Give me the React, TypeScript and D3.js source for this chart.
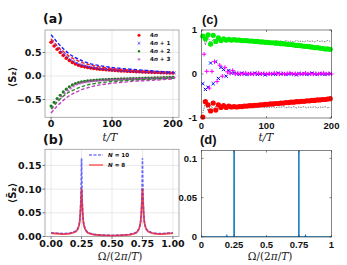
import React from 'react';
import * as d3 from 'd3';

const W = 347, H = 265;

// ---------- Panel (a) data ----------
const tA = d3.range(0, 201, 5); // 41 time points
const a4n = [0.72, 0.64, 0.57, 0.50, 0.44, 0.38, 0.33, 0.29, 0.255, 0.23, 0.21, 0.195, 0.18, 0.17, 0.16, 0.152, 0.145, 0.138, 0.132, 0.127, 0.122, 0.117, 0.113, 0.109, 0.105, 0.101, 0.098, 0.095, 0.092, 0.089, 0.086, 0.083, 0.081, 0.078, 0.076, 0.074, 0.071, 0.069, 0.067, 0.065, 0.063];
const a4n1 = [0.74, 0.66, 0.59, 0.52, 0.46, 0.40, 0.35, 0.31, 0.275, 0.245, 0.225, 0.208, 0.193, 0.181, 0.171, 0.162, 0.154, 0.147, 0.14, 0.134, 0.129, 0.124, 0.119, 0.115, 0.111, 0.107, 0.104, 0.10, 0.097, 0.094, 0.091, 0.088, 0.085, 0.083, 0.08, 0.078, 0.076, 0.073, 0.071, 0.069, 0.067];
const a4n2 = [-0.64, -0.56, -0.48, -0.41, -0.34, -0.28, -0.23, -0.19, -0.16, -0.14, -0.125, -0.113, -0.104, -0.097, -0.091, -0.086, -0.082, -0.078, -0.075, -0.072, -0.07, -0.067, -0.065, -0.063, -0.061, -0.059, -0.057, -0.055, -0.053, -0.051, -0.049, -0.047, -0.045, -0.043, -0.041, -0.039, -0.037, -0.035, -0.033, -0.031, -0.03];
const a4n3 = [-0.68, -0.59, -0.51, -0.44, -0.37, -0.31, -0.26, -0.215, -0.18, -0.158, -0.142, -0.129, -0.119, -0.111, -0.104, -0.098, -0.093, -0.089, -0.085, -0.082, -0.079, -0.076, -0.073, -0.071, -0.069, -0.066, -0.064, -0.062, -0.06, -0.058, -0.056, -0.054, -0.052, -0.05, -0.048, -0.046, -0.045, -0.043, -0.041, -0.04, -0.038];
const tADash = d3.range(0, 201, 10); // 21 time points
const dash4n1 = [0.88, 0.72, 0.58, 0.47, 0.39, 0.33, 0.28, 0.245, 0.22, 0.2, 0.18, 0.167, 0.155, 0.145, 0.135, 0.125, 0.115, 0.105, 0.095, 0.085, 0.075];
const dash4n = [0.79, 0.64, 0.52, 0.42, 0.35, 0.29, 0.25, 0.22, 0.195, 0.175, 0.16, 0.147, 0.135, 0.125, 0.115, 0.107, 0.1, 0.092, 0.085, 0.077, 0.07];
const dash4n2 = [-0.70, -0.55, -0.43, -0.34, -0.28, -0.23, -0.19, -0.165, -0.145, -0.13, -0.12, -0.11, -0.1, -0.092, -0.085, -0.078, -0.07, -0.065, -0.06, -0.055, -0.05];
const dash4n3 = [-0.79, -0.64, -0.52, -0.42, -0.35, -0.29, -0.25, -0.215, -0.19, -0.17, -0.155, -0.142, -0.13, -0.12, -0.11, -0.102, -0.095, -0.088, -0.08, -0.072, -0.065];
const xTicksA = [0, 100, 200];
const yTicksA = [-0.5, 0, 0.5];
const legendA = ['4n', '4n + 1', '4n + 2', '4n + 3'];

// ---------- Panel (b) data ----------
const freqB = [0, 0.05, 0.1, 0.15, 0.18, 0.2, 0.21, 0.22, 0.23, 0.235, 0.24, 0.245, 0.25, 0.255, 0.26, 0.265, 0.27, 0.28, 0.29, 0.3, 0.32, 0.35, 0.4, 0.45, 0.5, 0.55, 0.6, 0.65, 0.68, 0.7, 0.71, 0.72, 0.73, 0.735, 0.74, 0.745, 0.75, 0.755, 0.76, 0.765, 0.77, 0.78, 0.79, 0.8, 0.82, 0.85, 0.9, 0.95, 1.0];
const specN8 = [0.007, 0.006, 0.005, 0.006, 0.008, 0.01, 0.012, 0.016, 0.024, 0.032, 0.048, 0.075, 0.101, 0.072, 0.046, 0.031, 0.023, 0.015, 0.011, 0.008, 0.006, 0.004, 0.003, 0.002, 0.002, 0.002, 0.003, 0.004, 0.006, 0.008, 0.011, 0.015, 0.023, 0.031, 0.046, 0.072, 0.101, 0.075, 0.048, 0.032, 0.024, 0.016, 0.012, 0.01, 0.008, 0.006, 0.005, 0.006, 0.007];
const specN10 = [0.008, 0.007, 0.006, 0.007, 0.009, 0.011, 0.013, 0.017, 0.025, 0.034, 0.05, 0.085, 0.165, 0.08, 0.048, 0.032, 0.024, 0.016, 0.012, 0.009, 0.007, 0.005, 0.003, 0.003, 0.002, 0.003, 0.003, 0.005, 0.007, 0.009, 0.012, 0.016, 0.024, 0.032, 0.048, 0.08, 0.165, 0.085, 0.05, 0.034, 0.025, 0.017, 0.013, 0.011, 0.009, 0.007, 0.006, 0.007, 0.008];
const xTicksB = [0, 0.25, 0.5, 0.75, 1.0];
const yTicksB = [0, 0.05, 0.1, 0.15];

// ---------- Panel (c) data ----------
const tC = d3.range(2, 200, 4); // 50 time points
const cGreen = [0.86, 0.80, 0.89, 0.68, 0.88, 0.74, 0.82, 0.76, 0.80, 0.77, 0.79, 0.77, 0.78, 0.77, 0.77, 0.76, 0.76, 0.76, 0.75, 0.75, 0.74, 0.74, 0.73, 0.73, 0.72, 0.72, 0.71, 0.71, 0.70, 0.70, 0.69, 0.69, 0.68, 0.67, 0.67, 0.66, 0.65, 0.65, 0.64, 0.63, 0.63, 0.62, 0.61, 0.60, 0.60, 0.59, 0.58, 0.57, 0.57, 0.56];
const cRed = [-0.98, -0.63, -0.70, -0.84, -0.66, -0.82, -0.70, -0.76, -0.72, -0.76, -0.73, -0.75, -0.74, -0.75, -0.74, -0.74, -0.73, -0.73, -0.72, -0.72, -0.71, -0.71, -0.70, -0.70, -0.69, -0.69, -0.68, -0.68, -0.67, -0.67, -0.66, -0.66, -0.65, -0.65, -0.64, -0.64, -0.63, -0.63, -0.62, -0.62, -0.61, -0.61, -0.60, -0.60, -0.59, -0.59, -0.58, -0.58, -0.57, -0.56];
const cBlue = [-0.22, -0.35, -0.30, 0.25, -0.22, 0.28, -0.10, 0.15, 0.10, -0.05, 0.08, 0.02, 0.03, 0.01, -0.01, 0.02, 0.0, -0.01, 0.01, 0.0, 0.02, -0.01, 0.0, 0.01, -0.02, 0.0, 0.01, 0.0, -0.01, 0.02, 0.0, 0.01, -0.01, 0.0, 0.01, 0.0, -0.02, 0.01, 0.0, 0.01, -0.01, 0.0, 0.02, 0.0, -0.01, 0.01, 0.0, -0.01, 0.0, 0.01];
const cMagenta = [0.45, 0.06, -0.32, 0.06, 0.28, -0.17, 0.20, -0.05, 0.15, 0.05, 0.02, 0.08, 0.0, 0.02, 0.0, 0.01, 0.02, 0.0, 0.01, 0.0, 0.01, 0.02, 0.0, 0.01, 0.0, 0.01, 0.0, 0.02, 0.01, 0.0, 0.01, 0.0, 0.01, 0.02, 0.0, 0.01, 0.0, 0.01, 0.0, 0.02, 0.0, 0.01, 0.0, 0.01, 0.0, 0.01, 0.02, 0.0, 0.01, 0.0];
const cDotTop = [0.90, 0.66, 0.84, 0.70, 0.79, 0.72, 0.77, 0.73, 0.76, 0.73, 0.75, 0.73, 0.76, 0.73, 0.75, 0.74, 0.76, 0.73, 0.75, 0.73, 0.76, 0.74, 0.75, 0.73, 0.76, 0.74, 0.75, 0.73, 0.76, 0.74, 0.75, 0.73, 0.76, 0.74, 0.75, 0.73, 0.76, 0.74, 0.75, 0.73, 0.76, 0.74, 0.75, 0.73, 0.76, 0.74, 0.75, 0.73, 0.76, 0.74];
const cDotBot = [-0.88, -0.66, -0.84, -0.71, -0.80, -0.73, -0.78, -0.74, -0.77, -0.74, -0.76, -0.74, -0.77, -0.74, -0.76, -0.75, -0.77, -0.74, -0.76, -0.74, -0.77, -0.75, -0.76, -0.74, -0.77, -0.75, -0.76, -0.74, -0.77, -0.75, -0.76, -0.74, -0.77, -0.75, -0.76, -0.74, -0.77, -0.75, -0.76, -0.74, -0.77, -0.75, -0.76, -0.74, -0.77, -0.75, -0.76, -0.74, -0.77, -0.75];
const xTicksC = [0, 100, 200];
const yTicksC = [-1, 0, 1];

// ---------- Panel (d) data ----------
const freqD = [0, 0.19, 0.195, 0.2, 0.205, 0.249, 0.25, 0.2505, 0.2515, 0.2525, 0.3, 0.5, 0.7, 0.7475, 0.7485, 0.7495, 0.75, 0.7505, 0.795, 0.8, 0.805, 1];
const ampD = [0, 0, 0.002, 0, 0, 0, 0.5, 0, 0.5, 0, 0, 0, 0, 0, 0.5, 0, 0.5, 0, 0, 0.002, 0, 0];
const xTicksD = [0, 0.25, 0.5, 0.75, 1];
const xTickLabD = ['0', '0.25', '0.5', '0.75', '1'];
const yTicksD = [0, 0.05, 0.1];
const yTickLabD = ['0', '0.05', '0.1'];

const MPL = 'DejaVu Sans';
const MAT = 'Liberation Sans';
const SERIF = 'DejaVu Serif';

function Cross({ x, y, s, c, w = 0.9 }: any) {
  return <path d={`M${x - s},${y - s}L${x + s},${y + s}M${x - s},${y + s}L${x + s},${y - s}`} stroke={c} strokeWidth={w} fill="none" />;
}
function Plus({ x, y, s, c, w = 0.9 }: any) {
  return <path d={`M${x - s},${y}L${x + s},${y}M${x},${y - s}L${x},${y + s}`} stroke={c} strokeWidth={w} fill="none" />;
}

function fmt2(v: number) { return v.toFixed(2); }

export default function App() {
  const xA = d3.scaleLinear().domain([-10, 210]).range([45, 179]);
  const yA = d3.scaleLinear().domain([-0.88, 0.98]).range([117.3, 30]);
  const xB = d3.scaleLinear().domain([-0.05, 1.05]).range([45, 179]);
  const yB = d3.scaleLinear().domain([0, 0.184]).range([236.5, 149.3]);
  const xC = d3.scaleLinear().domain([0, 200]).range([201.5, 331.5]);
  const yC = d3.scaleLinear().domain([-1, 1]).range([118, 30]);
  const xD = d3.scaleLinear().domain([0, 1]).range([201.5, 331.5]);
  const yD = d3.scaleLinear().domain([0, 0.11]).range([237, 150.5]);

  const lineA = (vals: number[]) => d3.line<number>().x((_, i) => xA(tADash[i])).y(v => yA(v)).curve(d3.curveMonotoneX)(vals) || '';
  const lineB = (vals: number[]) => d3.line<number>().x((_, i) => xB(freqB[i])).y(v => yB(v))(vals) || '';
  const lineC = (vals: number[]) => d3.line<number>().x((_, i) => xC(tC[i])).y(v => yC(v))(vals) || '';
  const lineD = d3.line<number>().x((_, i) => xD(freqD[i])).y(v => yD(v))(ampD) || '';

  const spine = '#9a9a9a';
  const grid = '#e3e3e3';

  const mplFrame = (x: any, y: any, xt: number[], yt: number[], xl: (v: number) => string, yl: (v: number) => string) => {
    const [x0, x1] = x.range();
    const [y0, y1] = y.range();
    return (
      <g>
        {xt.map(v => <line key={'gx' + v} x1={x(v)} x2={x(v)} y1={y1} y2={y0} stroke={grid} strokeWidth={0.8} />)}
        {yt.map(v => <line key={'gy' + v} x1={x0} x2={x1} y1={y(v)} y2={y(v)} stroke={grid} strokeWidth={0.8} />)}
        <rect x={x0} y={y1} width={x1 - x0} height={y0 - y1} fill="none" stroke={spine} strokeWidth={0.8} />
        {xt.map(v => <line key={'tx' + v} x1={x(v)} x2={x(v)} y1={y0} y2={y0 + 2.5} stroke="#555" strokeWidth={0.8} />)}
        {yt.map(v => <line key={'ty' + v} x1={x0 - 2.5} x2={x0} y1={y(v)} y2={y(v)} stroke="#555" strokeWidth={0.8} />)}
        {xt.map(v => <text key={'lx' + v} x={x(v)} y={y0 + 10} textAnchor="middle" fontFamily={MPL} fontWeight="bold" fontSize={9.5} fill="#111">{xl(v)}</text>)}
        {yt.map(v => <text key={'ly' + v} x={x0 - 3.5} y={y(v) + 3.4} textAnchor="end" fontFamily={MPL} fontWeight="bold" fontSize={9.5} fill="#111">{yl(v)}</text>)}
      </g>
    );
  };

  const matFrame = (x: any, y: any, xt: number[], yt: number[], xl: string[], yl: string[]) => {
    const [x0, x1] = x.range();
    const [y0, y1] = y.range();
    const c = '#333';
    return (
      <g>
        <rect x={x0} y={y1} width={x1 - x0} height={y0 - y1} fill="none" stroke={c} strokeWidth={0.6} />
        {xt.map(v => <g key={'tx' + v}>
          <line x1={x(v)} x2={x(v)} y1={y0} y2={y0 - 2} stroke={c} strokeWidth={0.6} />
          <line x1={x(v)} x2={x(v)} y1={y1} y2={y1 + 2} stroke={c} strokeWidth={0.6} />
        </g>)}
        {yt.map(v => <g key={'ty' + v}>
          <line x1={x0} x2={x0 + 2} y1={y(v)} y2={y(v)} stroke={c} strokeWidth={0.6} />
          <line x1={x1} x2={x1 - 2} y1={y(v)} y2={y(v)} stroke={c} strokeWidth={0.6} />
        </g>)}
        {xt.map((v, i) => <text key={'lx' + v} x={x(v)} y={y0 + 11} textAnchor="middle" fontFamily={MAT} fontWeight="bold" fontSize={9.5} fill="#111">{xl[i]}</text>)}
        {yt.map((v, i) => <text key={'ly' + v} x={x0 - 4.5} y={y(v) + 3.4} textAnchor="end" fontFamily={MAT} fontWeight="bold" fontSize={9.5} fill="#111">{yl[i]}</text>)}
      </g>
    );
  };

  const yLabA = (v: number) => (v < 0 ? '\u2212' : '') + Math.abs(v).toFixed(1);

  return (
    <svg width={W} height={H} style={{ position: 'absolute', left: 0, top: 0, background: '#fff' }}>
      <defs>
        <clipPath id="clipD"><rect x={201.5} y={150.5} width={130} height={86.5} /></clipPath>
        <clipPath id="clipA"><rect x={45} y={30} width={134} height={87.3} /></clipPath>
      </defs>
      <rect width={W} height={H} fill="#fff" />

      {/* ---------- Panel (a) ---------- */}
      {mplFrame(xA, yA, xTicksA, yTicksA, v => String(v), yLabA)}
      <g clipPath="url(#clipA)">
        {a4n.map((v, i) => <circle key={'r' + i} cx={xA(tA[i])} cy={yA(v)} r={1.8} fill="#ff0000" />)}
        {a4n1.map((v, i) => <Cross key={'b' + i} x={xA(tA[i]) + 1.5} y={yA(v)} s={1.3} c="#3030ff" w={0.8} />)}
        {a4n2.map((v, i) => <circle key={'g' + i} cx={xA(tA[i])} cy={yA(v)} r={1.6} fill="#1a7f1a" />)}
        {a4n3.map((v, i) => <Plus key={'m' + i} x={xA(tA[i]) + 1.5} y={yA(v)} s={1.5} c="#cc44cc" w={0.8} />)}
        <path d={lineA(dash4n)} fill="none" stroke="#ff2020" strokeWidth={1.4} strokeDasharray="3.5,2" />
        <path d={lineA(dash4n1)} fill="none" stroke="#2020ff" strokeWidth={1.4} strokeDasharray="3.5,2" />
        <path d={lineA(dash4n2)} fill="none" stroke="#2a8a2a" strokeWidth={1.4} strokeDasharray="3.5,2" />
        <path d={lineA(dash4n3)} fill="none" stroke="#c040c0" strokeWidth={1.4} strokeDasharray="3.5,2" />
      </g>
      {legendA.map((lab, i) => {
        const ly = 35.3 + i * 8;
        const mx = 139;
        const parts = lab.split('n');
        return (
          <g key={'lg' + i}>
            {i === 0 && <circle cx={mx} cy={ly} r={1.5} fill="#ff0000" />}
            {i === 1 && <Cross x={mx} y={ly} s={1.3} c="#3030ff" w={0.8} />}
            {i === 2 && <circle cx={mx} cy={ly} r={1.2} fill="#1a7f1a" />}
            {i === 3 && <Plus x={mx} y={ly} s={1.4} c="#cc44cc" w={0.8} />}
            <text x={150} y={ly + 2} fontFamily={MPL} fontWeight="bold" fontSize={5.6} fill="#111">
              {parts[0]}<tspan fontStyle="italic">n</tspan>{parts[1]}
            </text>
          </g>
        );
      })}
      <text x={12} y={77} transform="rotate(-90 12 77)" textAnchor="middle" dominantBaseline="central" fontFamily={MPL} fontWeight="bold" fontSize={10} fill="#111">
        {'\u27E8S'}<tspan fontSize={7} dy={2}>z</tspan><tspan dy={-2}>{'\u27E9'}</tspan>
      </text>
      <text x={110} y={141} textAnchor="middle" fontFamily={SERIF} fontStyle="italic" fontSize={10.5} fill="#222">t/T</text>
      <text x={43} y={22.5} fontFamily={MPL} fontWeight="bold" fontSize={12.5} fill="#111">(a)</text>

      {/* ---------- Panel (b) ---------- */}
      {mplFrame(xB, yB, xTicksB, yTicksB, fmt2, fmt2)}
      <path d={lineB(specN8)} fill="none" stroke="#ff3030" strokeOpacity={0.8} strokeWidth={1.6} />
      <path d={lineB(specN10)} fill="none" stroke="#3a3aff" strokeOpacity={0.75} strokeWidth={1.6} strokeDasharray="3,1.5" />
      <path d={lineB(specN8)} fill="none" stroke="#ff3030" strokeOpacity={0.55} strokeWidth={1.6} />
      <line x1={89} x2={103} y1={155} y2={155} stroke="#5a5aff" strokeOpacity={0.8} strokeWidth={1.6} strokeDasharray="3,1.5" />
      <line x1={89} x2={103} y1={165} y2={165} stroke="#ff4040" strokeOpacity={0.8} strokeWidth={1.6} />
      <text x={108} y={157} fontFamily={MPL} fontWeight="bold" fontSize={5.6} fill="#111"><tspan fontStyle="italic">N</tspan> = 10</text>
      <text x={108} y={167} fontFamily={MPL} fontWeight="bold" fontSize={5.6} fill="#111"><tspan fontStyle="italic">N</tspan> = 8</text>
      <text x={12} y={193} transform="rotate(-90 12 193)" textAnchor="middle" dominantBaseline="central" fontFamily={MPL} fontWeight="bold" fontSize={10} fill="#111">
        {'\u27E8S\u0304'}<tspan fontSize={7} dy={2}>z</tspan><tspan dy={-2}>{'\u27E9'}</tspan>
      </text>
      <text x={120} y={259.5} textAnchor="middle" fontFamily={SERIF} fontSize={10.5} fill="#222">
        {'\u03A9/(2'}<tspan fontStyle="italic">{'\u03C0'}</tspan>/<tspan fontStyle="italic">T</tspan>)
      </text>
      <text x={43} y={144} fontFamily={MPL} fontWeight="bold" fontSize={12.5} fill="#111">(b)</text>

      {/* ---------- Panel (c) ---------- */}
      <path d={lineC(cDotTop)} fill="none" stroke="#000" strokeWidth={0.7} strokeDasharray="0.8,1" />
      <path d={lineC(cDotBot)} fill="none" stroke="#000" strokeWidth={0.7} strokeDasharray="0.8,1" />
      {cGreen.map((v, i) => <circle key={'cg' + i} cx={xC(tC[i])} cy={yC(v)} r={2.6} fill="#00ee00" />)}
      {cRed.map((v, i) => <circle key={'cr' + i} cx={xC(tC[i])} cy={yC(v)} r={2.6} fill="#ff0000" />)}
      {cBlue.map((v, i) => <Cross key={'cb' + i} x={xC(tC[i])} y={yC(v)} s={1.6} c="#0000ff" w={1} />)}
      {cMagenta.map((v, i) => <Plus key={'cm' + i} x={xC(tC[i]) + 1.3} y={yC(v)} s={2.2} c="#ff00ff" w={1} />)}
      {matFrame(xC, yC, xTicksC, yTicksC, xTicksC.map(String), ['-1', '0', '1'])}
      <text x={266} y={141} textAnchor="middle" fontFamily={SERIF} fontStyle="italic" fontSize={10.5} fill="#222">t/T</text>
      <text x={202} y={23.5} fontFamily={MAT} fontWeight="bold" fontSize={13} fill="#111">(c)</text>

      {/* ---------- Panel (d) ---------- */}
      <g clipPath="url(#clipD)">
        <path d={lineD} fill="none" stroke="#0072BD" strokeWidth={1.1} />
        <line x1={xD(0)} x2={xD(1)} y1={yD(0)} y2={yD(0)} stroke="#0072BD" strokeWidth={1.2} />
      </g>
      {matFrame(xD, yD, xTicksD, yTicksD, xTickLabD, yTickLabD)}
      <text x={270} y={260} textAnchor="middle" fontFamily={SERIF} fontSize={10.5} fill="#222">
        {'\u03A9/(2'}<tspan fontStyle="italic">{'\u03C0'}</tspan>/<tspan fontStyle="italic">T</tspan>)
      </text>
      <text x={200} y={144} fontFamily={MAT} fontWeight="bold" fontSize={13} fill="#111">(d)</text>
    </svg>
  );
}
